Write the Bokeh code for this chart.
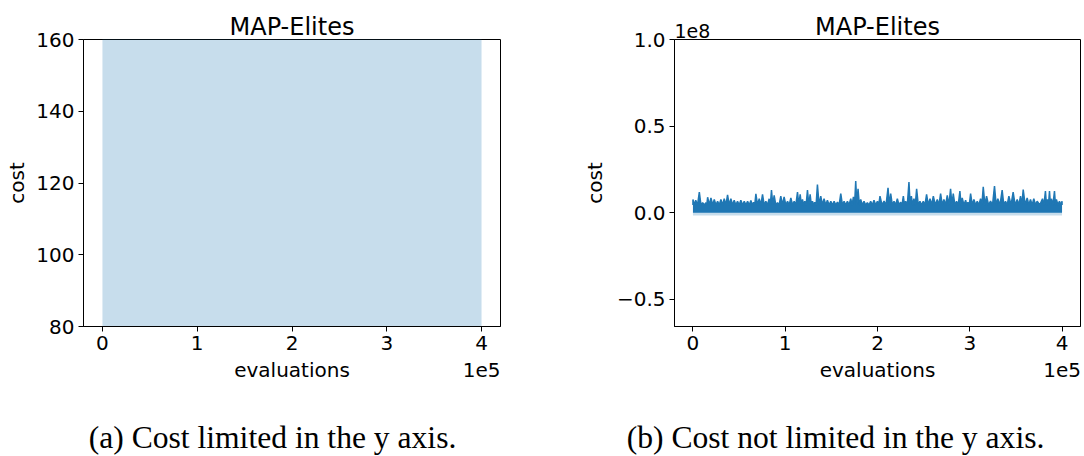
import numpy as np
from bokeh.plotting import figure
from bokeh.layouts import row, column
from bokeh.models import Range1d, FixedTicker, LinearAxis
from bokeh.core.properties import value
from bokeh.embed import file_html
from bokeh.resources import INLINE

# ---- data ----
spike_eval_1e5 = [0.00, 0.03, 0.069, 0.105, 0.141, 0.159, 0.195, 0.231, 0.267, 0.303, 0.339, 0.375,
                  0.411, 0.447, 0.483, 0.519, 0.556, 0.592, 0.628, 0.657, 0.682, 0.718, 0.754, 0.790,
                  0.826, 0.851, 0.880, 0.916, 0.952, 0.988, 1.025, 1.061, 1.097, 1.133, 1.162, 1.187,
                  1.212, 1.241, 1.270, 1.295, 1.320, 1.349, 1.385, 1.421, 1.457, 1.494, 1.530, 1.566,
                  1.602, 1.638, 1.674, 1.710, 1.739, 1.764, 1.789, 1.818, 1.854, 1.890, 1.926, 1.962,
                  1.999, 2.027, 2.071, 2.114, 2.143, 2.179, 2.215, 2.251, 2.280, 2.305, 2.341, 2.367,
                  2.395, 2.424, 2.460, 2.496, 2.532, 2.569, 2.605, 2.648, 2.684, 2.720, 2.756, 2.792,
                  2.821, 2.857, 2.893, 2.918, 2.955, 2.980, 3.009, 3.045, 3.081, 3.117, 3.146, 3.182,
                  3.225, 3.268, 3.304, 3.351, 3.387, 3.424, 3.470, 3.514, 3.550, 3.579, 3.622, 3.658,
                  3.694, 3.730, 3.788, 3.820, 3.842, 3.864, 3.885, 3.918, 3.939, 3.972, 4.000]
spike_cost_1e6 = [7.7, 7.3, 11.9, 5.8, 5.8, 9.0, 8.6, 7.7, 6.7, 7.7, 8.1, 10.4,
                  8.1, 7.3, 6.7, 7.3, 6.7, 6.7, 7.1, 6.1, 10.9, 8.1, 10.6, 6.7,
                  8.1, 13.1, 10.0, 5.8, 9.6, 9.2, 6.7, 8.6, 6.7, 11.9, 10.6, 7.7,
                  6.7, 13.1, 10.6, 6.7, 6.1, 16.3, 9.6, 8.1, 7.3, 6.7, 6.7, 6.1,
                  11.1, 6.7, 6.7, 8.1, 9.2, 18.3, 13.8, 7.7, 6.7, 5.8, 6.7, 7.3,
                  6.7, 9.6, 6.7, 14.4, 11.1, 6.7, 8.1, 6.1, 9.6, 6.7, 17.7, 9.6,
                  8.1, 13.8, 6.7, 6.7, 10.6, 8.1, 9.6, 7.7, 11.1, 7.7, 10.0, 13.8,
                  11.1, 6.7, 12.5, 8.6, 7.3, 6.1, 11.1, 7.7, 6.7, 8.1, 15.0, 9.6,
                  6.7, 15.4, 8.1, 13.1, 6.7, 9.6, 11.9, 7.7, 9.6, 13.4, 8.6, 7.7,
                  8.1, 6.7, 8.1, 12.5, 7.7, 12.5, 8.1, 12.5, 7.7, 6.7, 6.7]
floor_cost_1e6 = 4.5      # dense oscillation fills solidly up to about this level
bottom_cost_1e6 = 0.0     # lowest values of the mean cost
band_low_1e6 = -1.5       # lower edge of the shaded spread

x_ticks_1e5 = [0, 1, 2, 3, 4]
x_tick_labels = ["0", "1", "2", "3", "4"]
left_y_ticks = [80, 100, 120, 140, 160]
right_y_ticks_1e8 = [-0.5, 0.0, 0.5, 1.0]
right_y_tick_labels = ["\u22120.5", "0.0", "0.5", "1.0"]

title_text = "MAP-Elites"
x_label = "evaluations"
y_label = "cost"
x_offset_text = "1e5"
y_offset_text = "1e8"
caption_a = "(a) Cost limited in the y axis."
caption_b = "(b) Cost not limited in the y axis."

# ---- dense mean-cost line: peaks with the solid floor between them ----
ex = np.array(spike_eval_1e5) * 1e5
ec = np.array(spike_cost_1e6) * 1e6
floor = floor_cost_1e6 * 1e6
xs = [ex[0]]
ys = [floor]
for i in range(len(ex)):
    xs.append(ex[i]); ys.append(ec[i])
    if i < len(ex) - 1:
        xs.append((ex[i] + ex[i + 1]) / 2); ys.append(floor)
xs.append(ex[-1]); ys.append(floor)
xs = np.array(xs); ys = np.array(ys)
bottom = np.full_like(ys, bottom_cost_1e6 * 1e6)
low = np.full_like(ys, band_low_1e6 * 1e6)

BLUE = "#1f77b4"
FONT = "DejaVu Sans"
SERIF = "Liberation Serif"

TOP_H = 42          # strip holding the titles
OVERLAP = 16        # the plots' top border slides under the title strip
MAIN_TOP = 13       # frame top ends at TOP_H - OVERLAP + MAIN_TOP = 39
FRAME_H = 287
MAIN_BOTTOM = 64
CAPTION_H = 456 - TOP_H - (MAIN_TOP + FRAME_H + MAIN_BOTTOM - OVERLAP)


def bare(width, height):
    f = figure(width=width, height=height, x_range=Range1d(0, width), y_range=Range1d(0, height),
               x_axis_type=None, y_axis_type=None, min_border=0, output_backend="svg",
               toolbar_location=None, outline_line_color=None)
    f.xgrid.visible = False
    f.ygrid.visible = False
    f.background_fill_color = "white"
    f.border_fill_color = "white"
    return f


def style(p, xt, xl, yt, yl, ylab_standoff):
    p.xaxis.ticker = FixedTicker(ticks=xt)
    p.xaxis.major_label_overrides = dict(zip(xt, xl))
    p.yaxis.ticker = FixedTicker(ticks=yt)
    p.yaxis.major_label_overrides = dict(zip(yt, yl))
    p.xgrid.visible = False
    p.ygrid.visible = False
    p.outline_line_color = "black"
    p.outline_line_width = 1
    for ax in (p.xaxis, p.yaxis):
        ax.axis_line_color = "black"
        ax.major_tick_line_color = "black"
        ax.major_tick_out = 5
        ax.major_tick_in = 0
        ax.minor_tick_line_color = None
        ax.major_label_text_font = FONT
        ax.major_label_text_font_size = "20px"
        ax.major_label_text_color = "black"
        ax.major_label_standoff = 4
        ax.axis_label_text_font = FONT
        ax.axis_label_text_font_size = "20px"
        ax.axis_label_text_font_style = "normal"
        ax.axis_label_text_color = "black"
    p.yaxis.axis_label = y_label
    p.yaxis.axis_label_standoff = ylab_standoff
    p.background_fill_color = "white"
    p.border_fill_alpha = 0.0
    # second row under the x axis: axis title and the 1e5 scale note
    lab = LinearAxis(ticker=FixedTicker(ticks=[2e5, 4e5]),
                     major_label_overrides={2e5: x_label, 4e5: x_offset_text},
                     axis_line_color=None, major_tick_line_color=None, minor_tick_line_color=None,
                     major_tick_out=0, major_tick_in=0, major_label_standoff=5,
                     major_label_text_font=FONT, major_label_text_font_size="20px",
                     major_label_text_color="black")
    p.add_layout(lab, "below")


def main_fig(frame_w, left, right, yr):
    return figure(frame_width=frame_w, frame_height=FRAME_H, x_range=Range1d(-0.2e5, 4.2e5),
                  y_range=yr, output_backend="svg", toolbar_location=None,
                  min_border_left=left, min_border_right=right, min_border_top=MAIN_TOP,
                  min_border_bottom=MAIN_BOTTOM)


# ---- left: limited y axis ----
p1 = main_fig(417, 83, 42, Range1d(80, 160))
p1.varea(x=xs, y1=low, y2=ys, fill_color=BLUE, fill_alpha=0.25)
style(p1, [v * 1e5 for v in x_ticks_1e5], x_tick_labels, left_y_ticks,
      [str(v) for v in left_y_ticks], 4)

# ---- right: unlimited y axis ----
p2 = main_fig(406, 132, 4, Range1d(-0.656e8, 1.0e8))
p2.varea(x=xs, y1=low, y2=ys, fill_color=BLUE, fill_alpha=0.25)
p2.varea(x=xs, y1=bottom, y2=ys, fill_color=BLUE, fill_alpha=1.0)
p2.line(x=xs, y=ys, line_color=BLUE, line_width=1.5)
style(p2, [v * 1e5 for v in x_ticks_1e5], x_tick_labels,
      [v * 1e8 for v in right_y_ticks_1e8], right_y_tick_labels, 7)

# ---- titles above each panel ----
t1 = bare(542, TOP_H)
t1.text(x=[291.5], y=[16], text=[title_text], text_font=value(FONT), text_font_size="24px",
        text_align="center", text_baseline="alphabetic", text_color="black")
t2 = bare(542, TOP_H)
t2.text(x=[335], y=[16], text=[title_text], text_font=value(FONT), text_font_size="24px",
        text_align="center", text_baseline="alphabetic", text_color="black")
t2.text(x=[132], y=[12], text=[y_offset_text], text_font=value(FONT), text_font_size="19px",
        text_align="left", text_baseline="alphabetic", text_color="black")

# ---- sub-figure captions ----
cap = bare(1084, CAPTION_H)
cap.text(x=[272, 835], y=[19, 19], text=[caption_a, caption_b], text_font=value(SERIF),
         text_font_size="31.6px", text_align="center", text_baseline="alphabetic", text_color="black")

plots = row(p1, p2, margin=(-OVERLAP, 0, 0, 0))
layout = column(row(t1, t2), plots, cap)
open("out.html", "w").write(file_html(layout, INLINE))
